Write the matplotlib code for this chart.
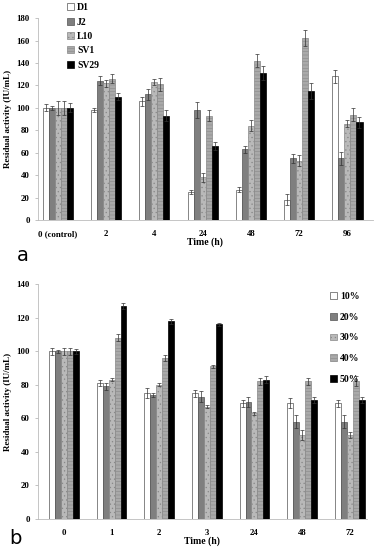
import numpy as np
import matplotlib.pyplot as plt
from matplotlib.patches import Patch

plt.rcParams['font.family'] = ['Liberation Serif', 'DejaVu Serif']
plt.rcParams['hatch.linewidth'] = 0.4

# panel a: time course per strain
times_a = ['0 (control)', '2', '4', '24', '48', '72', '96']
names_a = ['D1', 'J2', 'L10', 'SV1', 'SV29']
vals_a = [[100, 98, 106, 25, 27, 18, 128],
          [100, 124, 112, 98, 63, 55, 55],
          [100, 122, 123, 38, 84, 53, 86],
          [100, 126, 121, 93, 142, 162, 94],
          [100, 110, 93, 66, 131, 115, 87]]
errs_a = [[3, 2, 4, 2, 2, 5, 6],
          [2, 4, 5, 7, 3, 4, 6],
          [6, 3, 3, 4, 5, 5, 3],
          [6, 4, 6, 5, 6, 7, 6],
          [4, 3, 5, 4, 6, 7, 5]]

# panel b: time course per concentration
times_b = ['0', '1', '2', '3', '24', '48', '72']
names_b = ['10%', '20%', '30%', '40%', '50%']
vals_b = [[100, 81, 75, 75, 69, 69, 69],
          [100, 79, 74, 73, 70, 58, 58],
          [100, 83, 80, 67, 63, 50, 50],
          [100, 108, 96, 91, 82, 82, 82],
          [100, 127, 118, 116, 83, 71, 71]]
errs_b = [[2, 2, 3, 2, 2, 3, 2],
          [1, 2, 1, 3, 3, 4, 4],
          [2, 1, 1, 1, 1, 3, 2],
          [2, 2, 2, 1, 2, 2, 3],
          [1.5, 2, 1.5, 1, 2, 2, 2]]

faces = ['white', '#7f7f7f', '#b9b9b9', '#a9a9a9', 'black']
edges = ['#555555', '#555555', '#888888', '#888888', 'black']
hatches = [None, None, '....', '-----', None]

fig = plt.figure(figsize=(3.78, 5.5), dpi=100)
ax1 = fig.add_axes([0.1005, 0.6, 0.885, 0.367])
ax2 = fig.add_axes([0.1005, 0.0564, 0.87, 0.427])

def draw(ax, labels, vals, errs, ymax):
    x = np.arange(len(labels))
    w = 0.125
    for i in range(5):
        ax.bar(x + (i - 2) * w, vals[i], w, yerr=errs[i], color=faces[i],
               edgecolor=edges[i], linewidth=0.5, hatch=hatches[i],
               error_kw=dict(elinewidth=0.5, capsize=1.2, capthick=0.5, ecolor='#333333'))
    ax.set_ylim(0, ymax)
    ax.set_yticks(np.arange(0, ymax + 1, 20))
    ax.set_xticks(x)
    ax.set_xticklabels(labels, fontsize=6.3, fontweight='bold')
    ax.tick_params(axis='y', labelsize=6.3, length=2, width=0.5, color='#aaaaaa', pad=4)
    ax.tick_params(axis='x', length=0, pad=7)
    for t in ax.get_yticklabels():
        t.set_fontweight('bold')
    for s in ['top', 'right']:
        ax.spines[s].set_visible(False)
    for s in ['left', 'bottom']:
        ax.spines[s].set_color('#bbbbbb')
        ax.spines[s].set_linewidth(0.6)
    ax.set_ylabel('Residual activity (IU/mL)', fontsize=6.5, fontweight='bold', labelpad=3)
    ax.set_xlabel('Time (h)', fontsize=7, fontweight='bold', labelpad=0)

draw(ax1, times_a, vals_a, errs_a, 180)
ax1.set_xlim(-0.41, 6.52)
draw(ax2, times_b, vals_b, errs_b, 140)
ax2.set_xlim(-0.545, 6.36)

def handles(names):
    return [Patch(facecolor=faces[i], edgecolor=edges[i], hatch=hatches[i], linewidth=0.5, label=names[i])
            for i in range(5)]

fig.legend(handles=handles(names_a), loc='upper left', bbox_to_anchor=(0.155, 1.01),
           frameon=False, prop=dict(size=7, weight='bold'), handlelength=0.7, handleheight=0.7,
           handletextpad=0.3, labelspacing=0.55)
fig.legend(handles=handles(names_b), loc='upper left', bbox_to_anchor=(0.85, 0.485),
           frameon=False, prop=dict(size=7, weight='bold'), handlelength=0.7, handleheight=0.7,
           handletextpad=0.3, labelspacing=1.2)

fig.text(0.045, 0.525, 'a', fontsize=14, family='DejaVu Sans')
fig.text(0.025, 0.01, 'b', fontsize=14, family='DejaVu Sans')

fig.savefig('out.png', dpi=100)
